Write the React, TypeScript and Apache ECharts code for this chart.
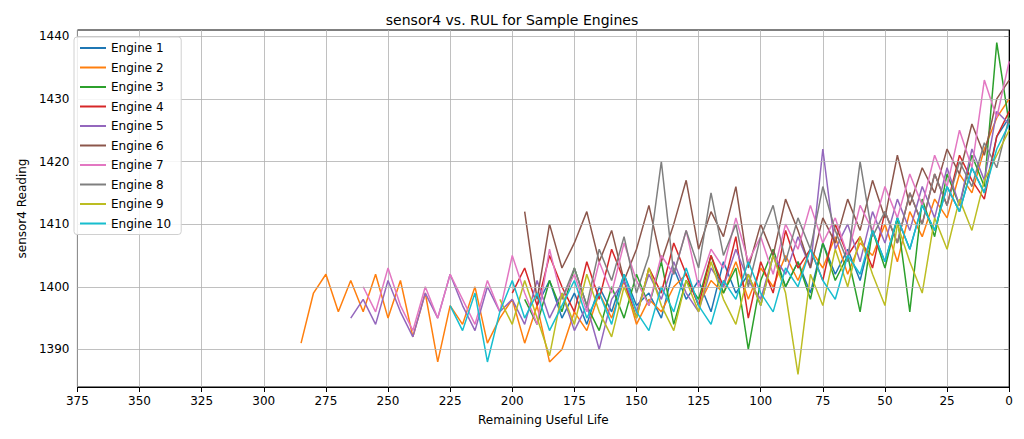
import { useEffect, useRef } from 'react';
import * as echarts from 'echarts';

// sampled every 5 RUL units, last value at RUL 0
const engineNames = ['Engine 1', 'Engine 2', 'Engine 3', 'Engine 4', 'Engine 5', 'Engine 6', 'Engine 7', 'Engine 8', 'Engine 9', 'Engine 10'];
const colors = ['#1f77b4', '#ff7f0e', '#2ca02c', '#d62728', '#9467bd', '#8c564b', '#e377c2', '#7f7f7f', '#bcbd22', '#17becf'];

const engine1 = [1397, 1401, 1395, 1399, 1394, 1400, 1396, 1402, 1397, 1399, 1395, 1403, 1398, 1401, 1396, 1404, 1399, 1402, 1397, 1405, 1400, 1404, 1399, 1407, 1402, 1406, 1401, 1409, 1404, 1411, 1406, 1413, 1409, 1416, 1412, 1419, 1415, 1424, 1427];
const engine2 = [1391, 1399, 1402, 1396, 1401, 1396, 1402, 1395, 1401, 1392, 1399, 1388, 1397, 1394, 1400, 1391, 1395, 1398, 1391, 1397, 1388, 1390, 1396, 1393, 1399, 1395, 1401, 1394, 1398, 1396, 1400, 1402, 1397, 1401, 1399, 1404, 1398, 1403, 1400, 1405, 1401, 1406, 1403, 1408, 1402, 1407, 1405, 1410, 1404, 1412, 1408, 1414, 1411, 1418, 1415, 1422, 1427, 1430];
const engine3 = [1398, 1394, 1401, 1396, 1403, 1397, 1393, 1400, 1395, 1402, 1397, 1404, 1394, 1401, 1398, 1405, 1399, 1403, 1390, 1401, 1406, 1400, 1404, 1398, 1407, 1401, 1405, 1396, 1409, 1403, 1411, 1396, 1414, 1408, 1418, 1413, 1421, 1416, 1439, 1426];
const engine4 = [1399, 1403, 1397, 1405, 1400, 1396, 1404, 1398, 1406, 1401, 1395, 1403, 1399, 1407, 1402, 1397, 1405, 1400, 1408, 1395, 1404, 1399, 1409, 1403, 1406, 1401, 1410, 1405, 1408, 1403, 1412, 1407, 1415, 1410, 1418, 1413, 1421, 1417, 1414, 1424, 1428];
const engine5 = [1395, 1398, 1394, 1401, 1396, 1392, 1399, 1395, 1402, 1397, 1393, 1400, 1396, 1398, 1394, 1401, 1395, 1399, 1393, 1397, 1390, 1398, 1401, 1396, 1402, 1398, 1404, 1399, 1396, 1403, 1400, 1406, 1401, 1398, 1405, 1402, 1408, 1403, 1422, 1406, 1410, 1404, 1412, 1407, 1414, 1409, 1416, 1411, 1419, 1413, 1422, 1417, 1428, 1426];
const engine6 = [1412, 1398, 1410, 1403, 1407, 1412, 1404, 1409, 1401, 1406, 1413, 1404, 1410, 1417, 1406, 1412, 1408, 1416, 1403, 1410, 1405, 1414, 1409, 1403, 1411, 1407, 1414, 1409, 1417, 1411, 1421, 1413, 1419, 1415, 1422, 1418, 1426, 1421, 1430, 1433];
const engine7 = [1400, 1396, 1403, 1397, 1393, 1400, 1395, 1402, 1398, 1394, 1401, 1396, 1405, 1399, 1394, 1406, 1398, 1402, 1396, 1404, 1399, 1407, 1401, 1397, 1405, 1402, 1409, 1400, 1406, 1403, 1411, 1404, 1408, 1402, 1410, 1406, 1413, 1407, 1411, 1405, 1413, 1409, 1416, 1411, 1418, 1413, 1421, 1416, 1425, 1419, 1433, 1427, 1436];
const engine8 = [1398, 1403, 1397, 1406, 1401, 1408, 1399, 1405, 1420, 1402, 1409, 1403, 1415, 1405, 1410, 1400, 1408, 1413, 1404, 1411, 1406, 1416, 1409, 1404, 1420, 1408, 1412, 1407, 1415, 1410, 1418, 1413, 1420, 1416, 1423, 1419, 1427];
const engine9 = [1398, 1394, 1401, 1395, 1389, 1399, 1394, 1402, 1396, 1392, 1400, 1395, 1403, 1397, 1393, 1401, 1396, 1404, 1398, 1394, 1402, 1397, 1405, 1399, 1386, 1402, 1397, 1406, 1400, 1408, 1402, 1397, 1410, 1404, 1399, 1411, 1406, 1414, 1409, 1417, 1421, 1425];
const engine10 = [1397, 1393, 1399, 1388, 1396, 1401, 1395, 1399, 1393, 1397, 1401, 1395, 1399, 1394, 1402, 1396, 1393, 1400, 1396, 1403, 1397, 1394, 1401, 1398, 1404, 1399, 1396, 1403, 1400, 1406, 1401, 1398, 1405, 1402, 1409, 1404, 1411, 1406, 1413, 1409, 1416, 1412, 1419, 1415, 1422, 1426];
const engines = [engine1, engine2, engine3, engine4, engine5, engine6, engine7, engine8, engine9, engine10];

const yTicks = [1390, 1400, 1410, 1420, 1430, 1440];
const xMax = 375;

export default function App() {
  const ref = useRef<HTMLDivElement>(null);

  useEffect(() => {
    if (!ref.current) return;
    const chart = echarts.init(ref.current, null, { renderer: 'svg' });
    const font = 'DejaVu Sans';

    const series: any[] = engines.map((vals, k) => ({
      name: engineNames[k],
      type: 'line',
      data: vals.map((v, i) => [(vals.length - 1 - i) * 5, v]),
      symbol: 'none',
      lineStyle: { width: 1.5, color: colors[k] },
      itemStyle: { color: colors[k] },
      z: 3
    }));
    series[0].markLine = {
      silent: true,
      symbol: 'none',
      label: { show: false },
      lineStyle: { color: '#b0b0b0', type: 'solid', width: 0.8 },
      data: yTicks.map(t => ({ yAxis: t }))
    };

    chart.setOption({
      animation: false,
      textStyle: { fontFamily: font },
      title: {
        text: 'sensor4 vs. RUL for Sample Engines',
        left: 'center',
        top: 0,
        textStyle: { fontSize: 14, fontWeight: 'normal', color: '#000', fontFamily: font }
      },
      legend: {
        data: engineNames,
        orient: 'vertical',
        left: 66,
        top: 29,
        z: 20,
        itemGap: 7.5,
        itemWidth: 26,
        itemHeight: 2,
        icon: 'rect',
        padding: [5, 10, 5, 6],
        borderColor: '#d0d0d0',
        borderWidth: 1,
        borderRadius: 3,
        backgroundColor: 'rgba(255,255,255,0.85)',
        textStyle: { fontSize: 12, color: '#000', fontFamily: font }
      },
      grid: { left: 62, right: 4, top: 22, bottom: 41, show: true, borderColor: '#000', borderWidth: 1 },
      xAxis: {
        type: 'value',
        inverse: true,
        min: 0,
        max: xMax,
        interval: 25,
        name: 'Remaining Useful Life',
        nameLocation: 'middle',
        nameGap: 27,
        nameTextStyle: { fontSize: 12, color: '#000' },
        axisLine: { lineStyle: { color: '#000' } },
        axisTick: { show: true, lineStyle: { color: '#000' } },
        axisLabel: { color: '#000', fontSize: 12 },
        splitLine: { show: true, lineStyle: { color: '#b0b0b0', width: 0.8 } }
      },
      yAxis: {
        type: 'value',
        min: 1384,
        max: 1441,
        name: 'sensor4 Reading',
        nameLocation: 'middle',
        nameGap: 48,
        nameTextStyle: { fontSize: 12, color: '#000' },
        axisLine: { show: true, lineStyle: { color: '#000' } },
        axisTick: { show: true, customValues: yTicks, lineStyle: { color: '#000' } },
        axisLabel: { color: '#000', fontSize: 12, customValues: yTicks, formatter: (v: number) => String(v) },
        splitLine: { show: false }
      },
      series
    });

    return () => chart.dispose();
  }, []);

  return <div ref={ref} style={{ width: 1008, height: 423 }} />;
}
